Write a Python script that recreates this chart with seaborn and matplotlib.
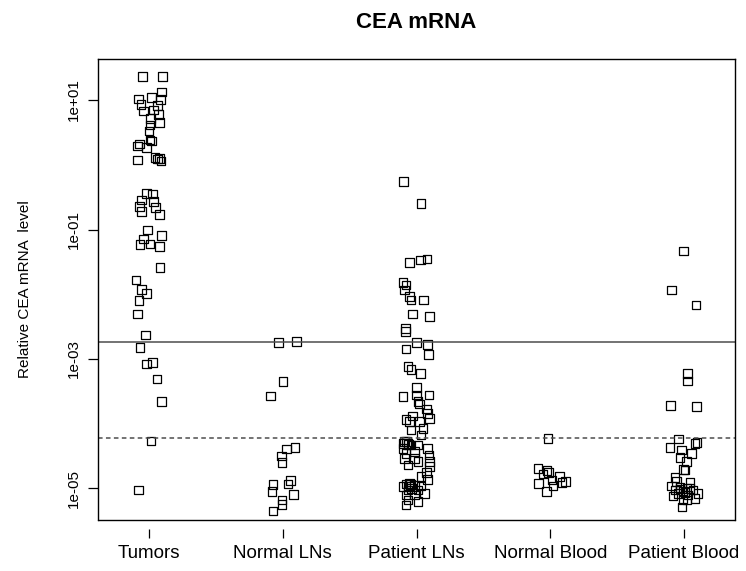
import numpy as np
import pandas as pd
import matplotlib
matplotlib.use("Agg")
import matplotlib.pyplot as plt
import seaborn as sns

categories = ["Tumors", "Normal LNs", "Patient LNs", "Normal Blood", "Patient Blood"]

tumors = [23, 23, 13.2, 10.3, 11.0, 10.2, 8.6, 8.2, 6.8, 7.0, 6.0, 5.2, 4.5, 4.1, 3.3,
          2.4, 2.09, 1.95, 1.86, 2.33, 1.18, 1.30, 1.26, 1.14, 1.23, 0.362, 0.353, 0.286,
          0.269, 0.225, 0.220, 0.188, 0.172, 0.098, 0.080, 0.0713, 0.059, 0.0597, 0.0542,
          0.0259, 0.0166, 0.0119, 0.01035, 0.00795, 0.00495, 0.00235, 0.00152, 8.4e-4,
          8.8e-4, 4.9e-4, 2.19e-4, 5.4e-5, 9.5e-6]
tumors_jit = [-0.047, 0.102, 0.095, -0.080, 0.020, 0.087, -0.060, 0.062, -0.043, 0.032,
              0.070, 0.013, 0.077, 0.007, 0.0, 0.007, -0.073, -0.087, -0.017, 0.020,
              -0.087, 0.045, 0.077, 0.090, 0.062, -0.017, 0.025, -0.055, 0.032, -0.073,
              0.050, -0.055, 0.077, -0.010, 0.095, -0.043, -0.067, 0.007, 0.077, 0.082,
              -0.097, -0.055, -0.017, -0.075, -0.084, -0.025, -0.067, -0.017, 0.025,
              0.060, 0.095, 0.015, -0.077]

normal_lns = [1.81e-3, 1.85e-3, 4.46e-4, 2.68e-4, 4.27e-5, 4.07e-5, 3.18e-5, 2.50e-5,
              1.32e-5, 1.17e-5, 1.16e-5, 8.9e-6, 8.1e-6, 6.6e-6, 5.7e-6, 4.5e-6]
normal_lns_jit = [-0.030, 0.102, 0.002, -0.090, 0.090, 0.028, -0.010, -0.005, 0.058,
                  0.040, -0.073, -0.080, 0.082, -0.005, -0.005, -0.073]

patient_lns = [0.547, 0.254, 0.0311, 0.0338, 0.0350, 0.0153, 0.0139, 0.01164, 0.00917,
               0.00815, 0.00815, 0.00495, 0.00450, 0.00298, 0.00264, 0.00181, 0.00169,
               0.00143, 0.00118, 7.6e-4, 6.9e-4, 6.0e-4, 3.65e-4, 2.62e-4, 2.78e-4,
               2.78e-4, 2.19e-4, 2.02e-4, 1.69e-4, 1.45e-4, 1.21e-4, 1.32e-4, 1.17e-4,
               1.08e-4, 1.08e-4, 8.5e-5, 8.0e-5, 6.7e-5, 5.28e-5, 4.99e-5, 4.70e-5,
               4.18e-5, 4.70e-5, 4.18e-5, 3.50e-5, 3.70e-5, 3.29e-5, 2.92e-5, 2.92e-5,
               2.59e-5, 2.31e-5, 2.59e-5, 2.17e-5, 1.75e-5, 1.52e-5, 1.39e-5, 1.17e-5,
               1.20e-5, 1.13e-5, 1.09e-5, 1.07e-5, 9.5e-6, 9.5e-6, 8.4e-6, 7.9e-6, 7.9e-6,
               6.6e-6, 6.25e-6, 5.6e-6, 5.0e-5, 5.3e-5, 4.8e-5, 1.1e-5, 1.0e-5, 1.15e-5]
patient_lns_jit = [-0.097, 0.035, -0.052, 0.030, 0.080, -0.102, -0.077, -0.090, -0.052,
                   -0.040, 0.052, -0.028, 0.097, -0.084, -0.084, 0.002, 0.084, -0.077,
                   0.090, -0.065, -0.040, 0.030, -0.002, -0.102, 0.002, 0.092, 0.010,
                   0.022, 0.073, 0.084, 0.097, -0.028, -0.077, -0.052, 0.022, 0.047,
                   -0.040, 0.035, -0.090, -0.065, -0.040, -0.102, 0.010, 0.084, -0.077,
                   -0.015, 0.092, -0.090, -0.015, 0.097, -0.065, 0.010, 0.097, 0.073,
                   0.035, 0.084, -0.077, -0.052, -0.015, 0.035, -0.102, -0.065, 0.010,
                   0.060, -0.077, -0.015, -0.065, 0.010, -0.077, -0.097, -0.075, -0.060,
                   -0.060, -0.037, -0.045]

normal_blood = [5.96e-5, 2.05e-5, 1.88e-5, 1.67e-5, 1.75e-5, 1.52e-5, 1.35e-5, 1.20e-5,
                1.23e-5, 1.27e-5, 1.09e-5, 8.9e-6]
normal_blood_jit = [-0.017, -0.092, -0.025, -0.055, -0.013, 0.070, 0.013, -0.087, 0.087,
                    0.112, 0.020, -0.030]

patient_blood = [0.0466, 0.01164, 0.00683, 6.0e-4, 4.6e-4, 1.90e-4, 1.83e-4, 5.8e-5,
                 4.99e-5, 5.1e-5, 4.32e-5, 3.94e-5, 3.50e-5, 3.03e-5, 2.59e-5, 1.98e-5,
                 1.93e-5, 1.49e-5, 1.27e-5, 1.23e-5, 1.09e-5, 1.04e-5, 1.01e-5, 9.5e-6,
                 9.5e-6, 8.9e-6, 8.4e-6, 8.4e-6, 7.9e-6, 7.66e-6, 7.06e-6, 6.8e-6, 6.6e-6,
                 5.2e-6, 9.8e-6, 8.7e-6, 1.0e-5]
patient_blood_jit = [-0.005, -0.092, 0.090, 0.028, 0.028, -0.099, 0.095, -0.043, 0.082,
                     0.097, -0.105, -0.017, 0.058, -0.030, 0.020, -0.005, 0.007, -0.067,
                     -0.055, 0.045, -0.092, -0.030, 0.022, 0.067, -0.067, -0.007, -0.045,
                     0.105, 0.030, -0.082, 0.082, -0.007, 0.022, -0.015, -0.030, 0.007,
                     0.045]

upper_cutoff = 1.85e-3
lower_cutoff = 5.96e-5
y_ticks = [1e-5, 1e-3, 1e-1, 1e1]
y_tick_labels = ["1e-05", "1e-03", "1e-01", "1e+01"]

groups = [tumors, normal_lns, patient_lns, normal_blood, patient_blood]
jitters = [tumors_jit, normal_lns_jit, patient_lns_jit, normal_blood_jit, patient_blood_jit]
rows = []
for i, (vals, jit) in enumerate(zip(groups, jitters)):
    n = min(len(vals), len(jit))
    for v, j in zip(vals[:n], jit[:n]):
        rows.append({"group": categories[i], "pos": i + 1 + j, "level": v})
df = pd.DataFrame(rows)

sns.set_style("white")
plt.rcParams["font.family"] = ["Liberation Sans", "DejaVu Sans"]
plt.rcParams["text.color"] = "black"
plt.rcParams["axes.labelcolor"] = "black"
plt.rcParams["xtick.color"] = "black"
plt.rcParams["ytick.color"] = "black"

fig = plt.figure(figsize=(7.46, 5.71), dpi=100)
ax = fig.add_axes([98 / 746, 51 / 571, 637 / 746, 461 / 571])

sns.scatterplot(data=df, x="pos", y="level", marker="s", s=38,
                facecolor="none", edgecolor="black", linewidth=0.9, ax=ax, legend=False)

ax.set_yscale("log")
ax.set_ylim(10 ** (1 - 420 / 64.75), 10 ** (1 + 41 / 64.75))
ax.set_xlim(1 - 51 / 133.75, 5 + 51 / 133.75)

ax.axhline(upper_cutoff, color="#4d4d4d", lw=1.1)
ax.axhline(lower_cutoff, color="#4d4d4d", lw=1.1, linestyle=(0, (3, 2.2)))

for sp in ax.spines.values():
    sp.set_color("black")
    sp.set_linewidth(1.0)
ax.spines["bottom"].set_position(("outward", 6.5))
ax.spines["bottom"].set_color("none")
ax.plot([0, 1], [0, 0], transform=ax.transAxes, color="black", lw=1.0, clip_on=False)

ax.set_xticks(range(1, 6))
ax.set_xticklabels(categories)
ax.set_yticks(y_ticks)
ax.set_yticklabels(y_tick_labels)
ax.yaxis.set_minor_locator(matplotlib.ticker.NullLocator())
ax.tick_params(axis="y", which="major", direction="out", length=7.5, width=0.9,
               color="black", labelcolor="black", pad=5, left=True,
               labelsize=11, labelrotation=90)
for lab in ax.get_yticklabels():
    lab.set_va("center")
ax.tick_params(axis="x", which="major", direction="out", length=6.5, width=0.9,
               color="black", labelcolor="black", pad=5, bottom=True, labelsize=13.5)

ax.set_xlabel("")
ax.set_ylabel("Relative CEA mRNA  level", fontsize=11, color="black")
ax.yaxis.set_label_coords(-0.104, 0.5)

fig.text(416.5 / 746, 1 - 22 / 571, "CEA mRNA", ha="center", va="center",
         fontsize=16, fontweight="bold", color="black")

fig.savefig("out.png", dpi=100, facecolor="white")
